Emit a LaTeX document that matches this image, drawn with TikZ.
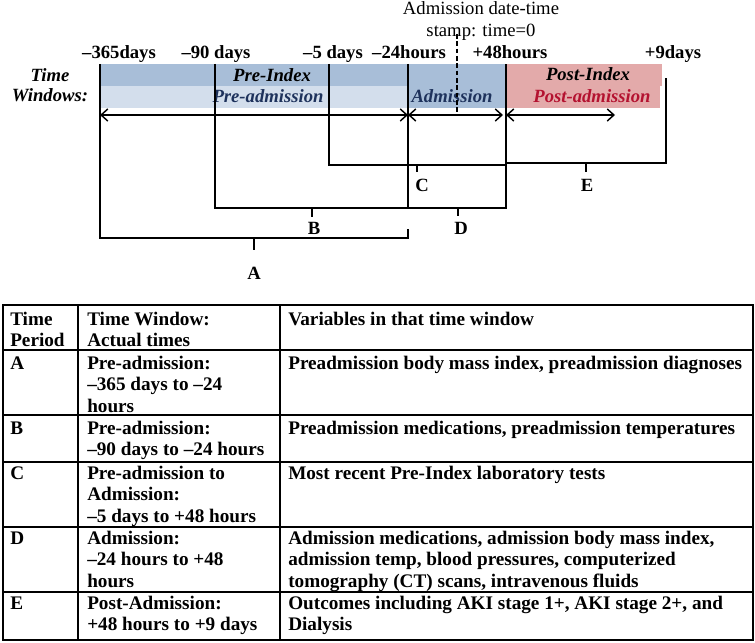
\documentclass[tikz,border=0pt]{standalone}
\usepackage{fontspec}
\setmainfont{Liberation Serif}
\usepackage{tikz}
\usetikzlibrary{arrows.meta}

\definecolor{indexblue}{RGB}{168,190,216}
\definecolor{preblue}{RGB}{211,222,236}
\definecolor{postpink}{RGB}{227,170,170}
\definecolor{navytext}{RGB}{30,50,92}
\definecolor{postred}{RGB}{180,18,48}

\newcommand{\tcell}[1]{\begin{tabular}[t]{@{}l@{}}#1\end{tabular}}

\tikzset{
  bracket/.style={line width=2.1pt},
  spanarrow/.style={line width=1.1pt,{Straight Barb[length=5pt,width=9pt]}-{Straight Barb[length=5pt,width=9pt]}},
  daylabel/.style={anchor=base,inner sep=0pt,font=\fontsize{14}{16.4}\selectfont\bfseries},
  bandlabel/.style={anchor=base,inner sep=0pt,font=\fontsize{14}{16.4}\selectfont\bfseries\itshape},
  cell/.style={anchor=base west,inner sep=0pt,font=\fontsize{14.4}{16.4}\selectfont\bfseries},
  rule/.style={line width=1pt},
}

\begin{document}
\begin{tikzpicture}[x=0.75pt,y=0.75pt,yscale=-1,xscale=1]
\useasboundingbox (0,0) rectangle (755,642);

%Shape: Bands
\fill[indexblue] (100,64) rectangle (506,86);
\fill[indexblue] (408,86) rectangle (506,108);
\fill[preblue] (100,86) rectangle (408,108);
\fill[postpink] (506,64) rectangle (662,86);
\fill[postpink] (506,86) rectangle (660,108);

%Coordinates of time marks
\coordinate (t365) at (100,64);
\coordinate (t90) at (215,64);
\coordinate (t5) at (329,64);
\coordinate (t24) at (408,64);
\coordinate (t48) at (506,64);
\coordinate (t9) at (666,78);

% Text Node
\node[anchor=base,inner sep=0pt,font=\fontsize{14}{16.4}\selectfont] (stamp) at (481,15) {\begin{tabular}[t]{@{}c@{}}Admission date-time\\stamp: time=0\end{tabular}};
% Text Node
\node[daylabel] (d365) at (119,59) {–365days};
\node[daylabel] (d90) at (216,59) {–90 days};
\node[daylabel] (d5) at (333,59) {–5 days};
\node[daylabel] (d24) at (409,59) {–24hours};
\node[daylabel] (d48) at (510,59) {+48hours};
\node[daylabel] (d9) at (673,59) {+9days};
% Text Node
\node[bandlabel] (tw) at (50,81) {\begin{tabular}[t]{@{}c@{}}Time\\[-1pt]Windows:\end{tabular}};
\node[bandlabel] (preidx) at (272,81) {Pre-Index};
\node[bandlabel,text=navytext] (preadm) at (268,102) {Pre-admission};
\node[bandlabel,text=navytext] (adm) at (452,102) {Admission};
\node[bandlabel] (postidx) at (588,80) {Post-Index};
\node[bandlabel,text=postred] (postadm) at (592,102) {Post-admission};

%Straight Lines: time stamp
\draw[dash pattern={on 3.5pt off 2pt},line width=0.8pt] (457,34) -- (457,114);

%Arrows
\coordinate (a0) at (100,115);
\coordinate (a1) at (408,115);
\coordinate (a2) at (503,115);
\coordinate (a3) at (506,115);
\coordinate (a4) at (615,115);
\draw[spanarrow] (a0) -- (a1);
\draw[spanarrow] (a1) -- (a2);
\draw[spanarrow] (a3) -- (a4);

%Brackets
\coordinate (bA) at (408,238);
\coordinate (bB) at (408,208);
\coordinate (bD) at (506,208);
\coordinate (bC) at (506,165);
\coordinate (bE) at (506,163);
\draw[bracket] (t365) |- (bA) -- (408,229);
\draw[bracket] (t90) |- (bB);
\draw[bracket] (t24) -- (bB) -- (bD) -- (t48);
\draw[bracket] (t5) |- (bC);
\draw[bracket] (bE) -| (t9);
%Straight Lines: ticks
\draw[bracket] (254,238) -- (254,250);
\draw[bracket] (312,208) -- (312,217);
\draw[bracket] (417,165) -- (417,172);
\draw[bracket] (458,208) -- (458,216);
\draw[bracket] (586,163) -- (586,172);
% Text Node
\node[daylabel] (lA) at (254,279) {A};
\node[daylabel] (lB) at (314,234) {B};
\node[daylabel] (lC) at (422,191) {C};
\node[daylabel] (lD) at (461,234) {D};
\node[daylabel] (lE) at (587,191) {E};

%Table rules
\draw[rule] (3,305) rectangle (753,640);
\foreach \y in {350,415,462,527,592}
  \draw[rule] (3,\y) -- (753,\y);
\draw[rule] (78,305) -- (78,640);
\draw[rule] (280,305) -- (280,640);

% Text Node: header
\node[cell] (hPer) at (10,325) {\tcell{Time\\Period}};
\node[cell] (hWin) at (87,325) {\tcell{Time Window:\\Actual times}};
\node[cell] (hVar) at (288,325) {Variables in that time window};
% Text Node: row A
\node[cell] (pA) at (10,369) {A};
\node[cell] (wA) at (87,369) {\tcell{Pre-admission:\\–365 days to –24\\hours}};
\node[cell] (vA) at (288,369) {Preadmission body mass index, preadmission diagnoses};
% Text Node: row B
\node[cell] (pB) at (10,434) {B};
\node[cell] (wB) at (87,434) {\tcell{Pre-admission:\\–90 days to –24 hours}};
\node[cell] (vB) at (288,434) {Preadmission medications, preadmission temperatures};
% Text Node: row C
\node[cell] (pC) at (10,479) {C};
\node[cell] (wC) at (87,479) {\tcell{Pre-admission to\\Admission:\\–5 days to +48 hours}};
\node[cell] (vC) at (288,479) {Most recent Pre-Index laboratory tests};
% Text Node: row D
\node[cell] (pD) at (10,544) {D};
\node[cell] (wD) at (87,544) {\tcell{Admission:\\–24 hours to +48\\hours}};
\node[cell] (vD) at (288,544) {\tcell{Admission medications, admission body mass index,\\admission temp, blood pressures, computerized\\tomography (CT) scans, intravenous fluids}};
% Text Node: row E
\node[cell] (pE) at (10,609) {E};
\node[cell] (wE) at (87,609) {\tcell{Post-Admission:\\+48 hours to +9 days}};
\node[cell] (vE) at (288,609) {\tcell{Outcomes including AKI stage 1+, AKI stage 2+, and\\Dialysis}};
\end{tikzpicture}
\end{document}
